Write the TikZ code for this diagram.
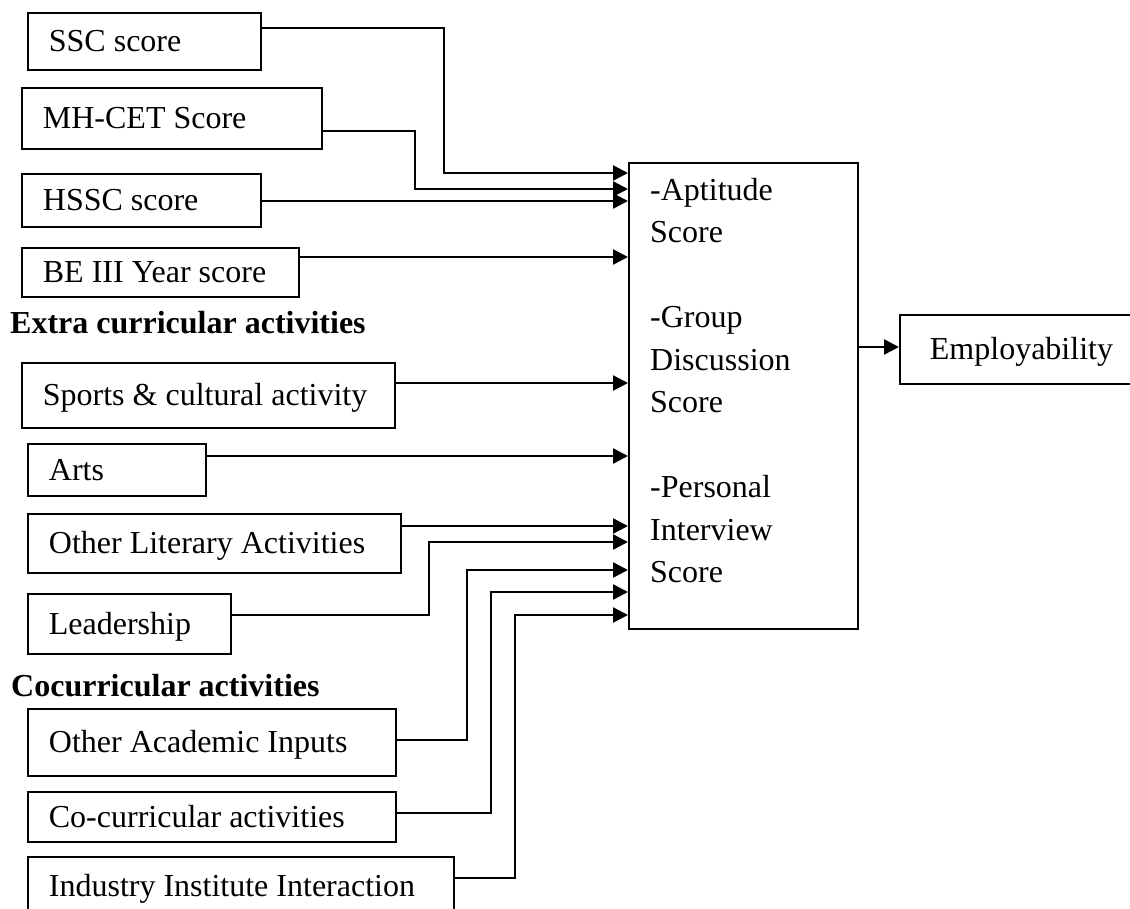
\documentclass[tikz,border=0pt]{standalone}
\usepackage{fontspec}
\setmainfont{Liberation Serif}
\usetikzlibrary{arrows.meta}
\begin{document}
\begin{tikzpicture}[x=1pt,y=-1pt,
  txt/.style={font=\fontsize{32}{38}\selectfont},
  inbox/.style={txt, draw, line width=1.8pt, anchor=north west, inner xsep=21pt,
    inner ysep=0pt, text height=21pt, text depth=0pt},
  heading/.style={font=\fontsize{32}{38}\selectfont\bfseries, anchor=base west, inner sep=0pt},
  conn/.style={line width=2.4pt, -{Triangle[length=15pt,width=15pt]}}]
\useasboundingbox (0,0) rectangle (1130,908);
\fill[white] (0,0) rectangle (1130,908);
\clip (0,0) rectangle (1130,908);

% input boxes
\node[inbox, minimum height=57pt] (ssc) at (27,12) {\makebox[191pt][l]{SSC score}};
\node[inbox, minimum height=61pt] (mhcet) at (21,87) {\makebox[258pt][l]{MH-CET Score}};
\node[inbox, minimum height=53pt] (hssc) at (21,173) {\makebox[197pt][l]{HSSC score}};
\node[inbox, minimum height=49pt] (be) at (21,247) {\makebox[235pt][l]{BE III Year score}};
\node[heading] (extra) at (10,333) {Extra curricular activities};
\node[inbox, minimum height=65pt] (sports) at (21,362) {\makebox[331pt][l]{Sports \& cultural activity}};
\node[inbox, minimum height=52pt] (arts) at (27,443) {\makebox[136pt][l]{Arts}};
\node[inbox, minimum height=59pt] (otherlit) at (27,513) {\makebox[331pt][l]{Other Literary Activities}};
\node[inbox, minimum height=60pt] (leader) at (27,593) {\makebox[161pt][l]{Leadership}};
\node[heading] (cocurr) at (11,696) {Cocurricular activities};
\node[inbox, minimum height=67pt] (acad) at (27,708) {\makebox[326pt][l]{Other Academic Inputs}};
\node[inbox, minimum height=50pt] (cocact) at (27,791) {\makebox[326pt][l]{Co-curricular activities}};
\node[inbox, minimum height=58pt] (industry) at (27,856) {\makebox[384pt][l]{Industry Institute Interaction}};

% main box
\node[draw, line width=1.8pt, anchor=north west, inner sep=0pt,
  minimum width=229pt, minimum height=466pt] (main) at (628,162) {};
\node[txt, anchor=north west, inner sep=0pt, align=left,
  font=\fontsize{32}{42.5}\selectfont] (maintext) at (650,178)
  {-Aptitude\\Score\\[42.5pt]-Group\\Discussion\\Score\\[42.5pt]-Personal\\Interview\\Score};

% output box
\node[inbox, inner xsep=30pt, minimum height=69pt] (employ) at (899,314) {\makebox[173pt][l]{Employability}};

% connectors
\draw[conn] (ssc.east |- 0,28) -- (444,28) -- (444,173) -- (main.west |- 0,173);
\draw[conn] (mhcet.east |- 0,131) -- (415,131) -- (415,189) -- (main.west |- 0,189);
\draw[conn] (hssc.east |- 0,201) -- (main.west |- 0,201);
\draw[conn] (be.east |- 0,257) -- (main.west |- 0,257);
\draw[conn] (sports.east |- 0,383) -- (main.west |- 0,383);
\draw[conn] (arts.east |- 0,456) -- (main.west |- 0,456);
\draw[conn] (otherlit.east |- 0,526) -- (main.west |- 0,526);
\draw[conn] (leader.east |- 0,615) -- (429,615) -- (429,542) -- (main.west |- 0,542);
\draw[conn] (acad.east |- 0,740) -- (467,740) -- (467,570) -- (main.west |- 0,570);
\draw[conn] (cocact.east |- 0,813) -- (491,813) -- (491,592) -- (main.west |- 0,592);
\draw[conn] (industry.east |- 0,878) -- (515,878) -- (515,615) -- (main.west |- 0,615);
\draw[conn] (main.east |- 0,347) -- (employ.west |- 0,347);
\end{tikzpicture}
\end{document}
